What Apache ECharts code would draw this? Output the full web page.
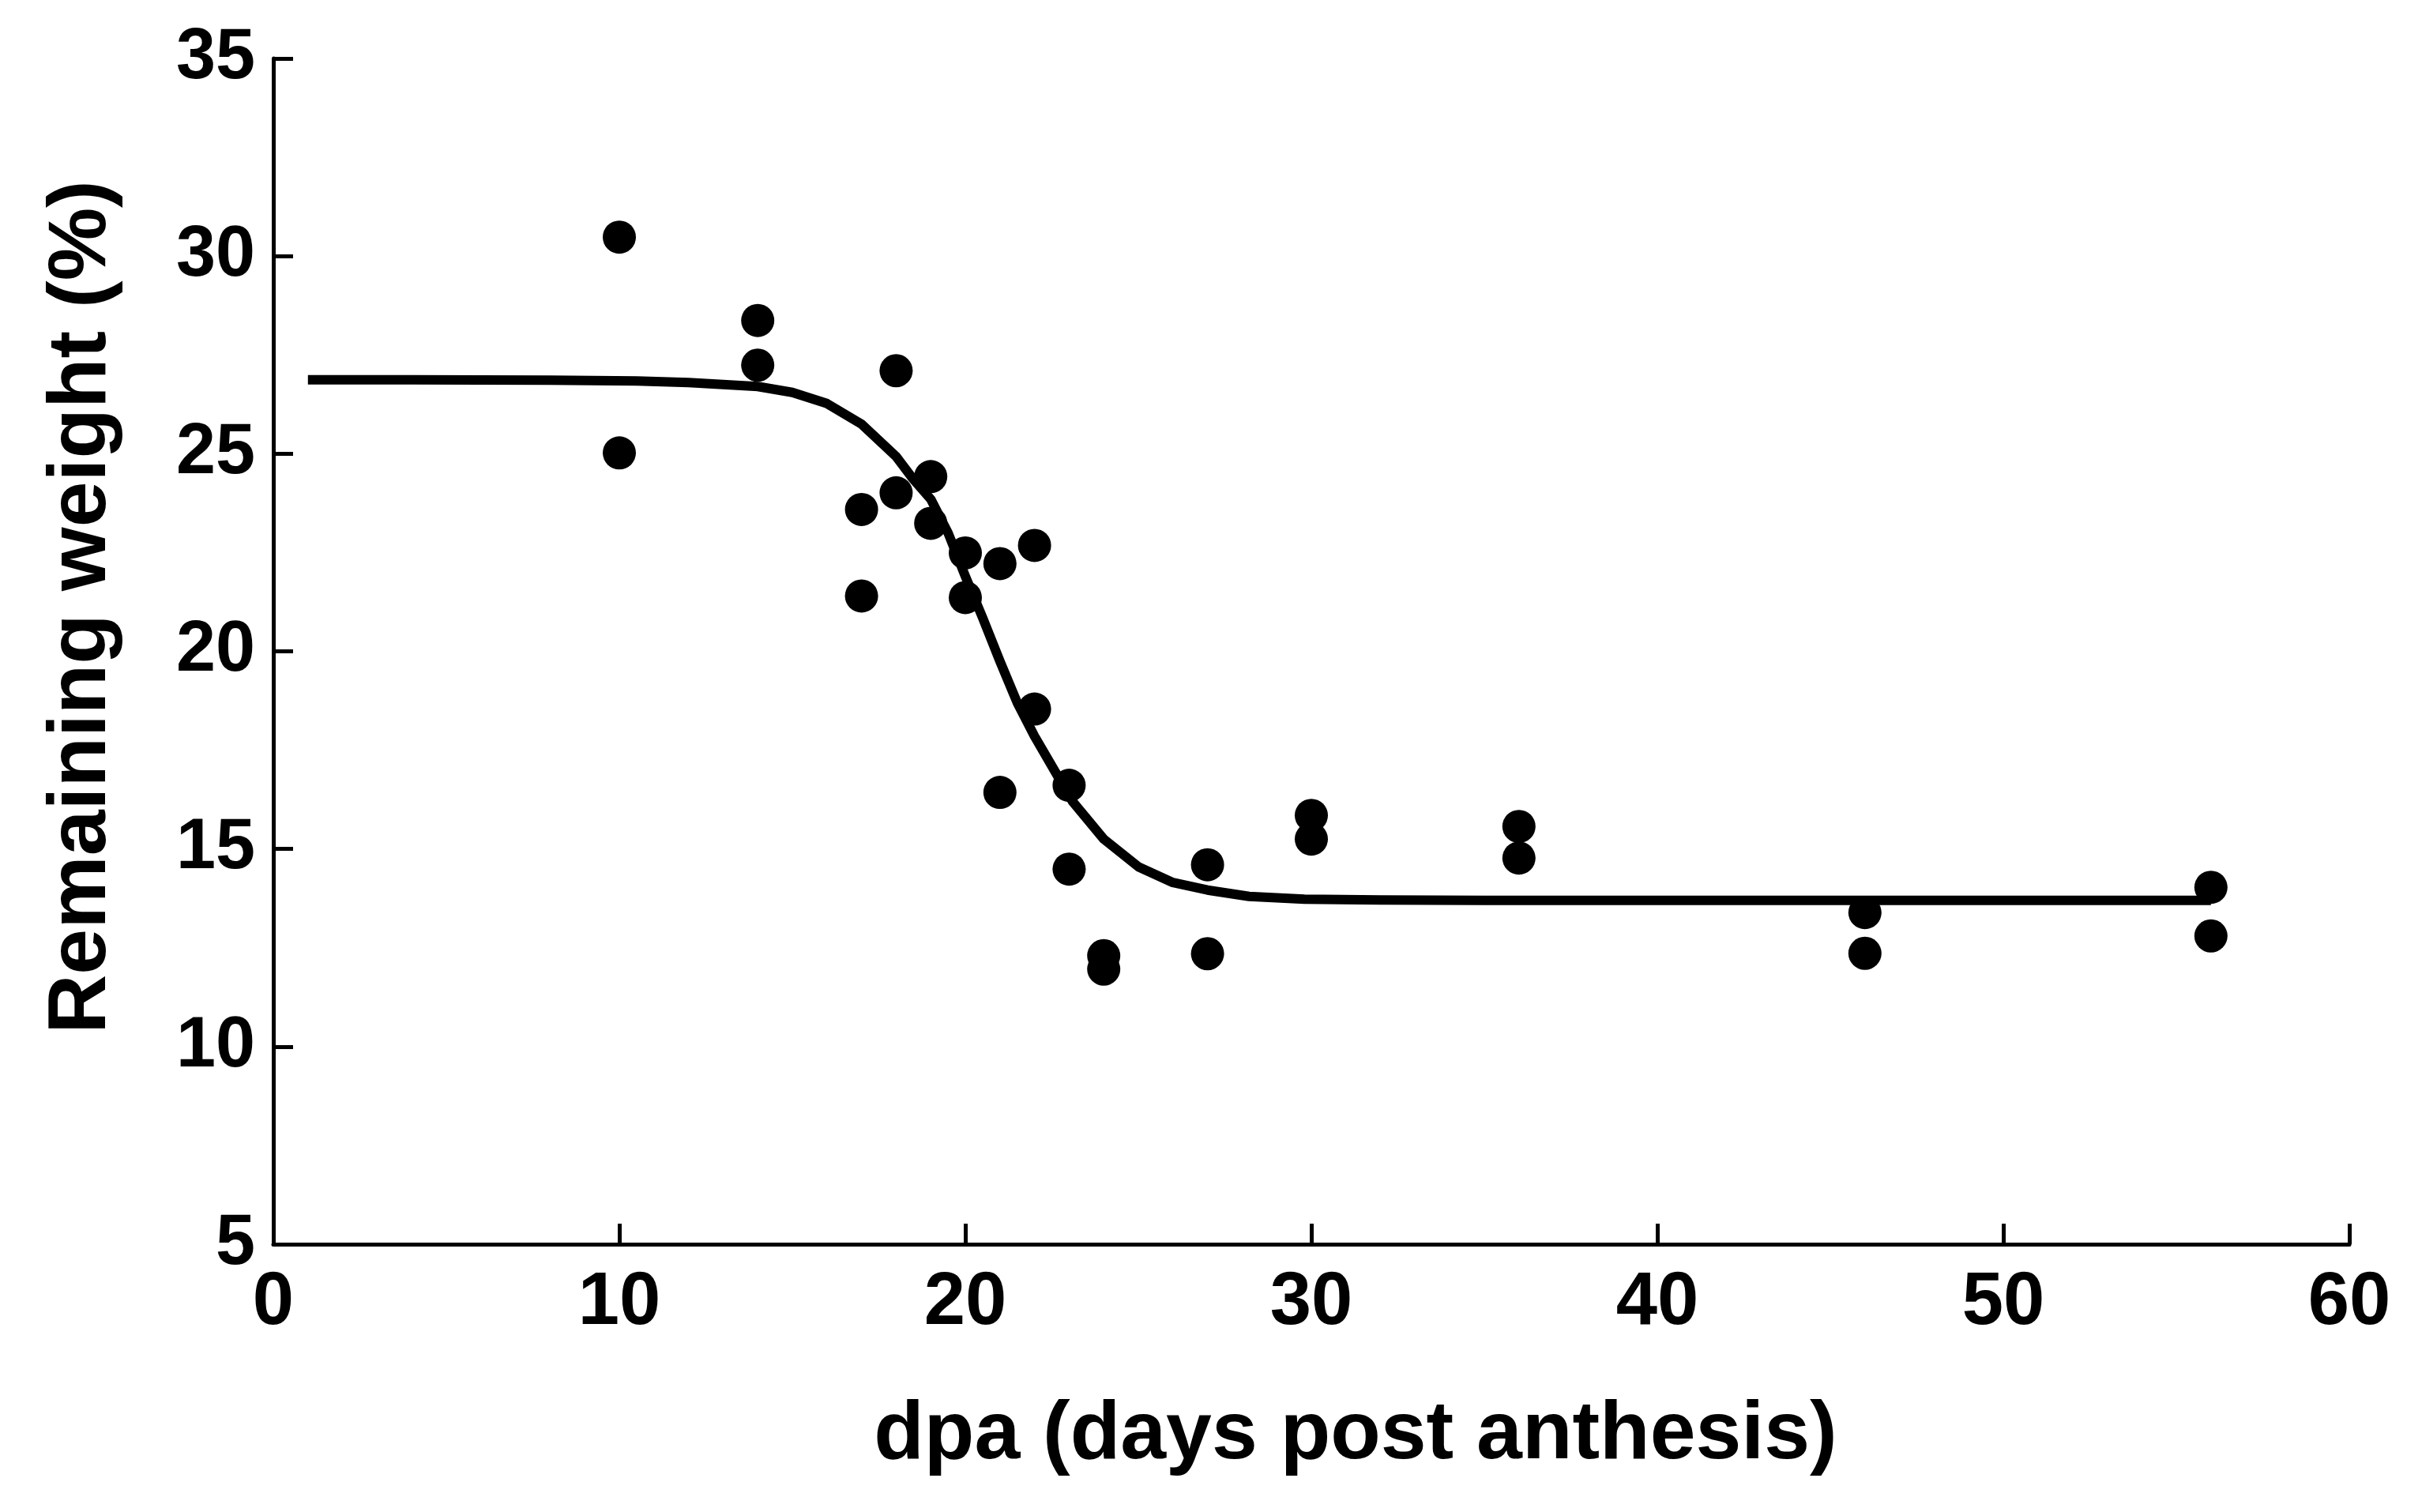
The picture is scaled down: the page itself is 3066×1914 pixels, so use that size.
<!DOCTYPE html>
<html>
<head>
<meta charset="utf-8">
<script src="https://cdn.jsdelivr.net/npm/echarts@6/dist/echarts.min.js"></script>
<style>
html,body{margin:0;padding:0;background:#fff;}
#chart{width:3066px;height:1914px;}
</style>
</head>
<body>
<div id="chart"></div>
<script>
// Measured points: [dpa, remaining weight %]
const dpaValues = [10,10,14,14,17,17,18,18,19,19,20,20,21,21,22,22,23,23,24,24,27,27,30,30,36,36,46,46,56,56];
const weightValues = [30.48,25.02,28.37,27.24,23.59,21.40,27.10,24.01,24.42,23.24,22.49,21.36,22.22,16.43,22.68,18.54,16.61,14.49,12.30,11.96,14.60,12.35,15.85,15.25,15.57,14.77,13.39,12.36,14.03,12.80];

// Fitted curve
const curveX = [1,4,8,10.5,12,14,15,16,17,18,18.5,19,19.5,20,20.5,21,21.5,22,22.6,23.1,24,25,26,27,28.2,29.8,32,35,40,45,50,56];
const curveY = [26.87,26.87,26.86,26.84,26.80,26.70,26.55,26.27,25.75,24.93,24.35,23.85,23.0,21.9,20.85,19.75,18.7,17.85,16.95,16.2,15.25,14.55,14.15,13.96,13.80,13.73,13.71,13.70,13.70,13.70,13.70,13.70];

const xTicks = {min: 0, max: 60, interval: 10};
const yTicks = {min: 5, max: 35, interval: 5};

const FONT = "'Liberation Sans', Arial, sans-serif";
const chart = echarts.init(document.getElementById('chart'), null, {renderer: 'canvas'});

const scatterData = dpaValues.map((x, i) => [x, weightValues[i]]);
const curveData = curveX.map((x, i) => [x, curveY[i]]);

chart.setOption({
  backgroundColor: '#ffffff',
  animation: false,
  grid: {left: 346, right: 92, top: 74, bottom: 339, containLabel: false},
  xAxis: {
    type: 'value',
    min: xTicks.min, max: xTicks.max, interval: xTicks.interval,
    name: 'dpa (days post anthesis)',
    nameLocation: 'middle',
    nameGap: 190,
    nameTextStyle: {color: '#000', fontFamily: FONT, fontWeight: 'bold', fontSize: 104, padding: [0, 0, 0, 112]},
    axisLine: {show: true, onZero: false, lineStyle: {color: '#000', width: 5}},
    axisTick: {show: true, inside: true, length: 26, lineStyle: {color: '#000', width: 5}},
    axisLabel: {color: '#000', fontFamily: FONT, fontWeight: 'bold', fontSize: 94, margin: 28},
    splitLine: {show: false}
  },
  yAxis: {
    type: 'value',
    min: yTicks.min, max: yTicks.max, interval: yTicks.interval,
    name: 'Remaining weight (%)',
    nameLocation: 'middle',
    nameGap: 190,
    nameRotate: 90,
    nameTextStyle: {color: '#000', fontFamily: FONT, fontWeight: 'bold', fontSize: 104, padding: [0, 0, 0, 112]},
    axisLine: {show: true, onZero: false, lineStyle: {color: '#000', width: 5}},
    axisTick: {show: true, inside: true, length: 25, lineStyle: {color: '#000', width: 5}},
    axisLabel: {color: '#000', fontFamily: FONT, fontWeight: 'bold', fontSize: 90, margin: 23},
    splitLine: {show: false}
  },
  series: [
    {
      type: 'line',
      data: curveData,
      showSymbol: false,
      symbol: 'none',
      smooth: false,
      lineStyle: {color: '#000', width: 12, join: 'round', cap: 'butt'},
      z: 2
    },
    {
      type: 'scatter',
      data: scatterData,
      symbol: 'circle',
      symbolSize: 42,
      itemStyle: {color: '#000', opacity: 1},
      z: 3
    }
  ]
});
</script>
</body>
</html>
